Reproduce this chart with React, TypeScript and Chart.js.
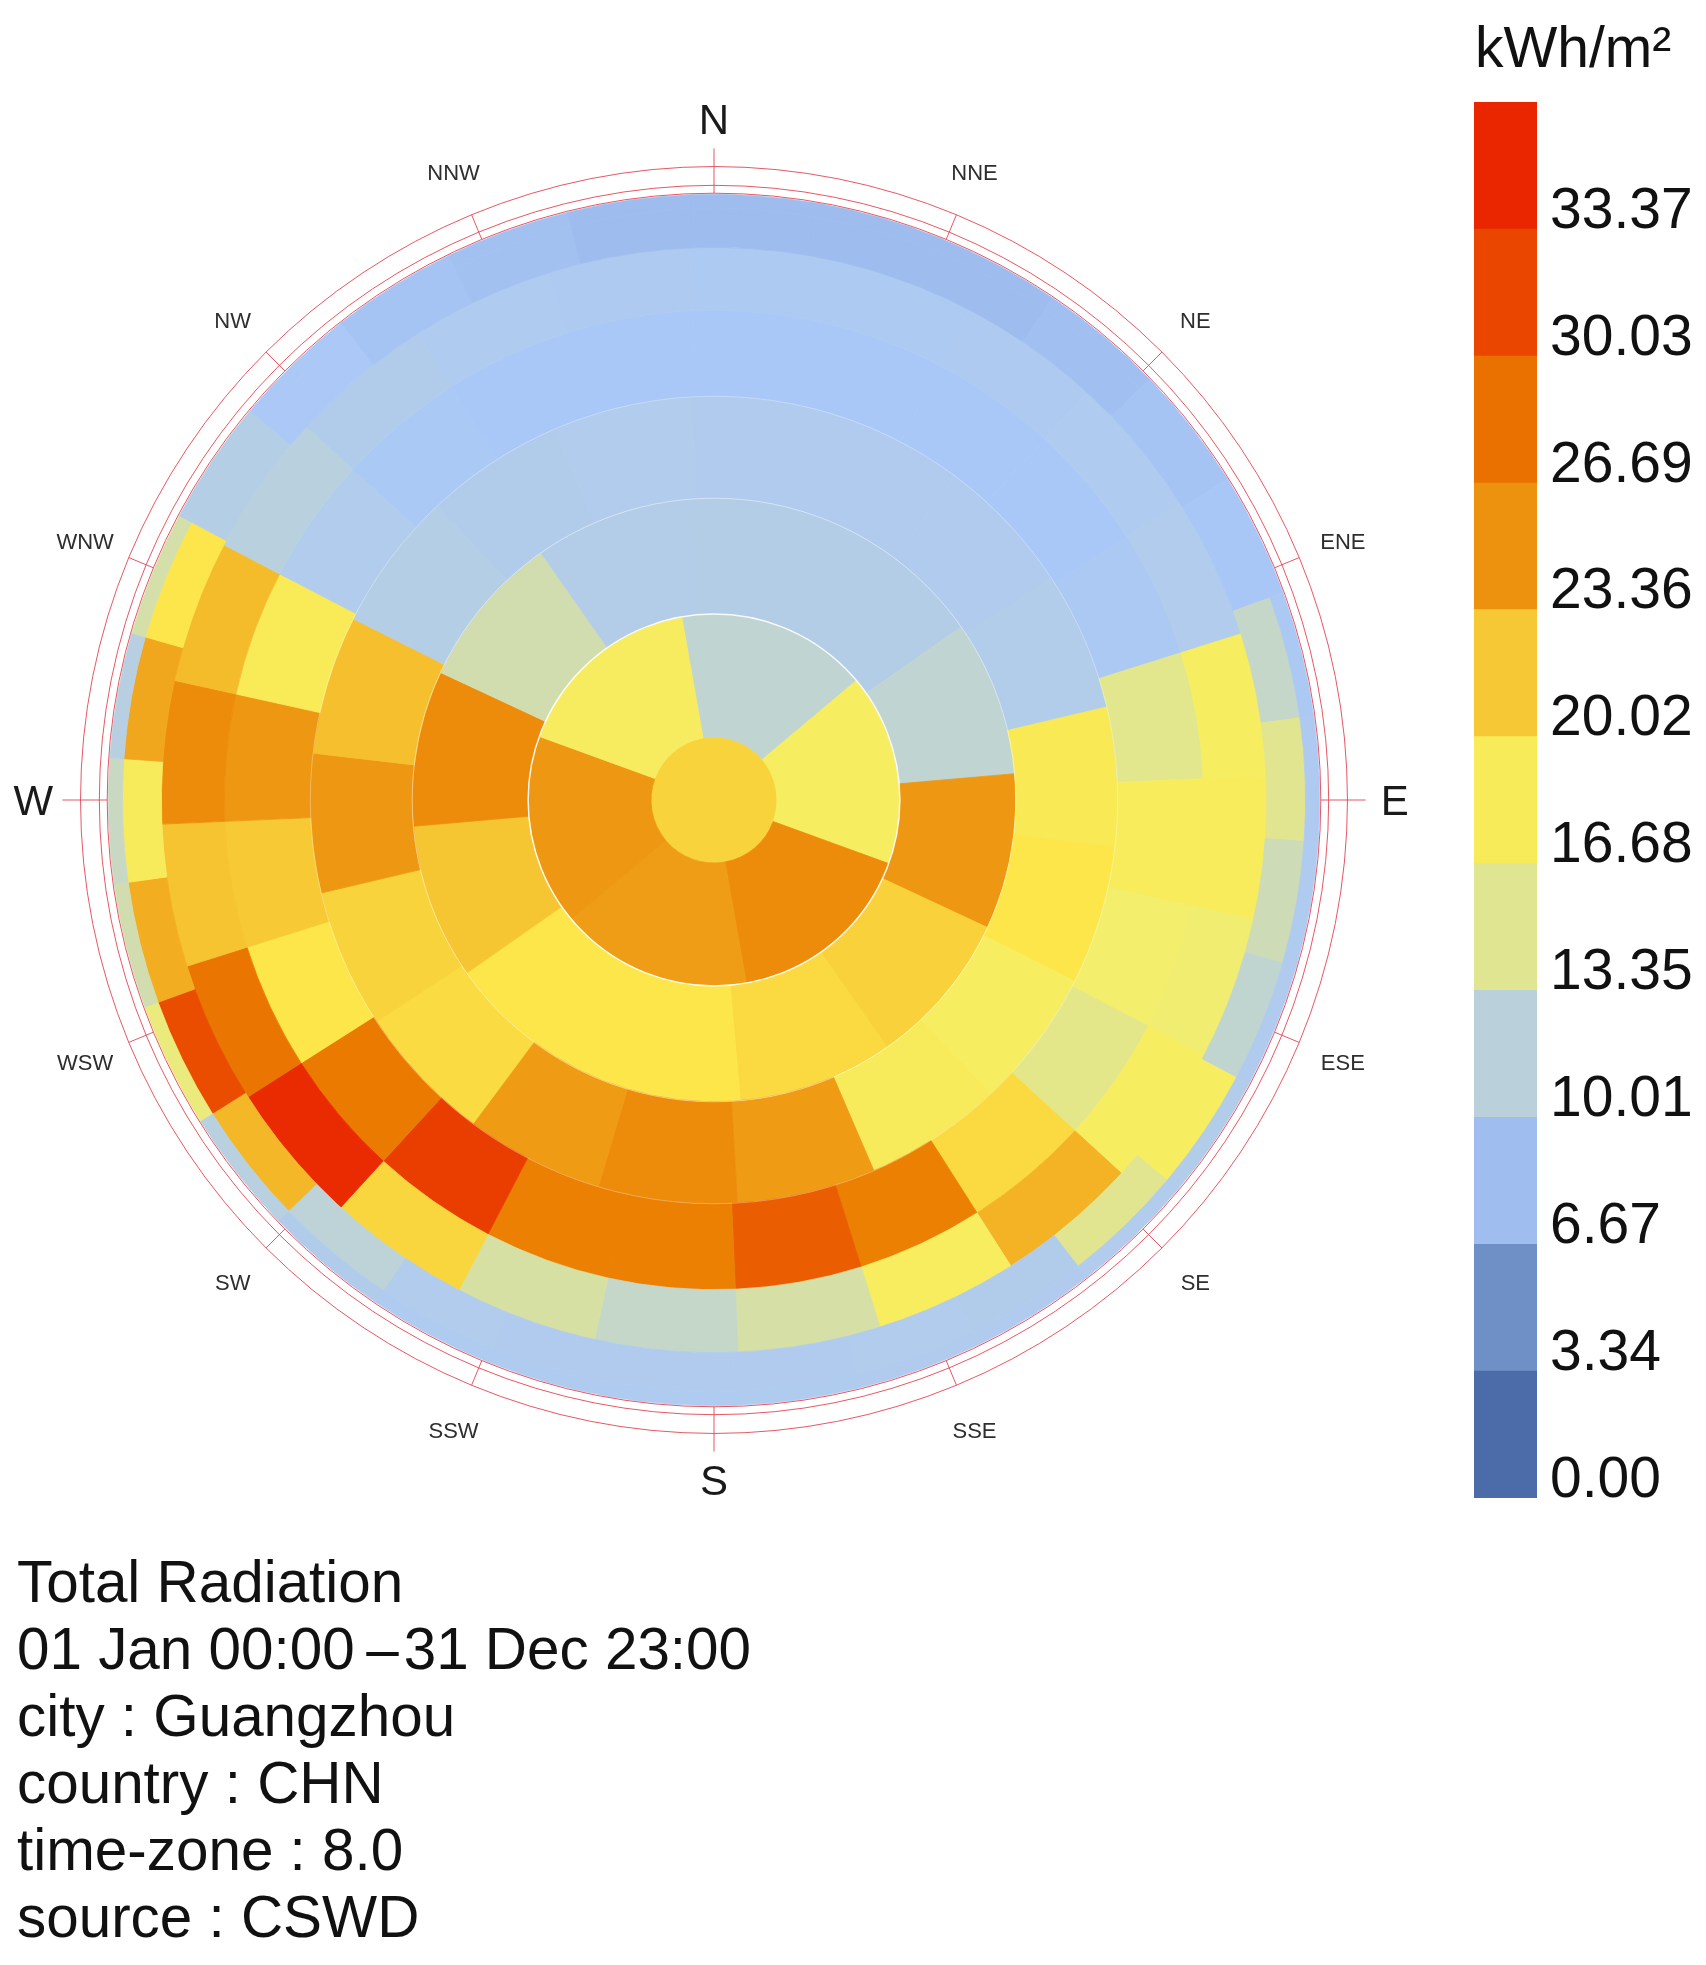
/**
 * Sky-dome radiation rose (Tregenza patches) with a stepped colour legend.
 * Each sky band is one doughnut dataset, outermost band first.
 */
import React, { useEffect, useRef } from 'react';
import { Chart, registerables } from 'chart.js';

Chart.register(...registerables);

const FONT = "'Liberation Sans', Arial, sans-serif";

// Radiation per patch in kWh/m2, clockwise, first patch starts just left of north
const band30Low = [6.6, 6.6, 6.6, 6.8, 7.1, 7.3, 7.8, 8, 8.2, 8.4, 8.7, 8.5, 8.4, 8.4, 8.3, 8.2, 8.2, 8.2, 8.6, 9.6, 14.1, 12.3, 11.6, 9.5, 12.5, 9.1, 7.5, 7.1, 6.9, 6.6];
const band30High = [6.6, 6.6, 6.6, 6.8, 7.1, 7.3, 11.4, 13.4, 12, 11.1, 15.6, 13.4, 8.6, 8.5, 8.4, 8.4, 8.4, 8.5, 10.5, 20.9, 29.5, 21.4, 16.4, 21.7, 18.4, 9.1, 7.5, 7.1, 6.9, 6.6];
const band24Low = [7.9, 7.9, 8, 8.2, 8.5, 15.6, 16.2, 14.5, 15.6, 21.1, 15.8, 12.6, 11.4, 12.7, 19.4, 33, 26.4, 20.3, 24, 20.7, 9.8, 8.6, 8.2, 8];
const band24High = [7.4, 7.4, 7.4, 7.4, 7.8, 13.5, 16.2, 14.7, 13.6, 19.2, 25.4, 28.2, 25.4, 25.4, 30.9, 26, 18.5, 20, 22.8, 16.7, 8.5, 7.6, 7.4, 7.4];
const band18 = [8.4, 8.4, 8.4, 8.7, 17.1, 18.5, 15.7, 16.4, 22.4, 24, 22.4, 19.1, 19.5, 22.8, 20.5, 9.1, 8.6, 8.5];
const band12 = [8.9, 8.9, 11, 22.8, 19.6, 19.2, 18.5, 18.5, 20.2, 24, 12.3, 8.8];
const band6 = [10.9, 15.6, 24, 22.2, 22.8, 15.9];
const bandCap = [19.5];

const skyBands = [band30Low, band30High, band24Low, band24High, band18, band12, band6, bandCap];
// ring thickness of each band, same order
const bandWeights = [14, 39, 63, 86, 102, 116, 123, 63];

const legendTicks = [0, 3.34, 6.67, 10.01, 13.35, 16.68, 20.02, 23.36, 26.69, 30.03, 33.37];
const legendMax = 36.71;

const gradientStops = [
  [75, 107, 169], [115, 147, 202], [170, 200, 247], [193, 213, 208], [245, 239, 103],
  [252, 230, 74], [239, 156, 21], [234, 123, 0], [234, 74, 0], [234, 38, 0],
];

const mainDirections = ['N', 'E', 'S', 'W'];
const minorDirections = ['NNE', 'NE', 'ENE', 'ESE', 'SE', 'SSE', 'SSW', 'SW', 'WSW', 'WNW', 'NW', 'NNW'];
const directionAngles: Record<string, number> = {
  N: 0, NNE: 22.5, NE: 45, ENE: 67.5, E: 90, ESE: 112.5, SE: 135, SSE: 157.5,
  S: 180, SSW: 202.5, SW: 225, WSW: 247.5, W: 270, WNW: 292.5, NW: 315, NNW: 337.5,
};

const infoLines = [
  'Total Radiation',
  '01 Jan 00:00\u2009\u2013\u200A31 Dec 23:00',
  'city : Guangzhou',
  'country : CHN',
  'time-zone : 8.0',
  'source : CSWD',
];

function radiationColor(value: number) {
  const pos = Math.min(Math.max(value / legendTicks[legendTicks.length - 1], 0), 1) * (gradientStops.length - 1);
  const low = Math.min(Math.floor(pos), gradientStops.length - 2);
  const t = pos - low;
  const [r, g, b] = gradientStops[low].map((c, i) => Math.round(c + (gradientStops[low + 1][i] - c) * t));
  return `rgb(${r},${g},${b})`;
}

// Compass rings, ticks and direction labels, plus the pale seams between bands
const compassPlugin = {
  id: 'compass',
  afterDatasetsDraw(chart: any) {
    const { ctx } = chart;
    const outer = chart.getDatasetMeta(0).data[0];
    const { x, y, outerRadius: R } = outer;
    const seamAlpha = [0, 0, 0, 0.3, 0.45, 0.9, 0];

    ctx.save();
    seamAlpha.forEach((alpha, i) => {
      if (!alpha) return;
      const arc = chart.getDatasetMeta(i).data[0];
      ctx.beginPath();
      ctx.arc(x, y, arc.innerRadius, 0, Math.PI * 2);
      ctx.strokeStyle = `rgba(255,255,255,${alpha})`;
      ctx.lineWidth = alpha > 0.5 ? 1.5 : 1;
      ctx.stroke();
    });

    ctx.strokeStyle = 'rgba(225,70,85,0.9)';
    ctx.lineWidth = 1;
    [1.002, 1.015, 1.046].forEach((f) => {
      ctx.beginPath();
      ctx.arc(x, y, R * f, 0, Math.PI * 2);
      ctx.stroke();
    });

    const spoke = (deg: number, r0: number, r1: number) => {
      const a = (deg * Math.PI) / 180;
      ctx.beginPath();
      ctx.moveTo(x + Math.sin(a) * r0, y - Math.cos(a) * r0);
      ctx.lineTo(x + Math.sin(a) * r1, y - Math.cos(a) * r1);
      ctx.stroke();
    };
    const label = (name: string) => {
      const a = (directionAngles[name] * Math.PI) / 180;
      ctx.fillText(name, x + Math.sin(a) * R * 1.124, y - Math.cos(a) * R * 1.124 + 3);
    };

    mainDirections.forEach((d) => spoke(directionAngles[d], R * 1.002, R * 1.076));
    minorDirections.forEach((d) => spoke(directionAngles[d], R * 1.002, R * 1.046));

    ctx.textAlign = 'center';
    ctx.textBaseline = 'middle';
    ctx.fillStyle = '#1a1a1a';
    ctx.font = `42px ${FONT}`;
    mainDirections.forEach(label);
    ctx.fillStyle = '#2e2e2e';
    ctx.font = `22px ${FONT}`;
    minorDirections.forEach(label);
    ctx.restore();
  },
};

const SkyDome: React.FC = () => {
  const canvasRef = useRef<HTMLCanvasElement>(null);

  useEffect(() => {
    if (!canvasRef.current) return;
    const chart = new Chart(canvasRef.current, {
      type: 'doughnut',
      data: {
        datasets: skyBands.map((band, i) => {
          const colors = band.map(radiationColor);
          return {
            data: band.map(() => 1),
            backgroundColor: colors,
            borderColor: colors,
            borderWidth: 0.8,
            weight: bandWeights[i],
            // patches sit a sixth of their width anticlockwise of north
            rotation: -(360 / band.length) / 6,
          };
        }),
      },
      options: {
        responsive: false,
        animation: false,
        cutout: 0,
        layout: { padding: { left: 108, right: 108, top: 194, bottom: 194 } },
        plugins: { legend: { display: false }, tooltip: { enabled: false } },
      },
      plugins: [compassPlugin],
    } as any);
    return () => chart.destroy();
  }, []);

  return (
    <canvas
      ref={canvasRef}
      width={1428}
      height={1600}
      style={{ position: 'absolute', left: 0, top: 0 }}
    />
  );
};

const ColorLegend: React.FC = () => {
  const canvasRef = useRef<HTMLCanvasElement>(null);

  useEffect(() => {
    if (!canvasRef.current) return;
    const chart = new Chart(canvasRef.current, {
      type: 'bar',
      data: {
        labels: [''],
        datasets: legendTicks.map((tick, i) => ({
          data: [(legendTicks[i + 1] ?? legendMax) - tick],
          backgroundColor: radiationColor(tick),
          borderWidth: 0,
          barPercentage: 1,
          categoryPercentage: 1,
        })),
      },
      options: {
        responsive: false,
        animation: false,
        // room under the bar so the 0.00 label is not cut off
        layout: { padding: { bottom: 30 } },
        plugins: { legend: { display: false }, tooltip: { enabled: false } },
        scales: {
          x: { display: false, stacked: true },
          y: {
            position: 'right',
            stacked: true,
            min: 0,
            max: legendMax,
            grid: { display: false, drawTicks: false },
            border: { display: false },
            afterBuildTicks: (scale: any) => {
              scale.ticks = legendTicks.map((value) => ({ value }));
            },
            afterFit: (scale: any) => {
              // keep the bar running the full canvas height
              scale.width = 169;
              scale.paddingTop = 0;
              scale.paddingBottom = 0;
            },
            ticks: {
              autoSkip: false,
              padding: 13,
              labelOffset: -17,
              color: '#111',
              font: { family: FONT, size: 57 },
              callback: (value: any) => Number(value).toFixed(2),
            },
          },
        },
      },
    } as any);
    return () => chart.destroy();
  }, []);

  return (
    <canvas
      ref={canvasRef}
      width={232}
      height={1426}
      style={{ position: 'absolute', left: 1474, top: 102 }}
    />
  );
};

export default function App() {
  return (
    <div style={{ position: 'absolute', left: 0, top: 0, width: 1706, height: 1965, background: '#fff', overflow: 'hidden', fontFamily: FONT, color: '#111' }}>
      <SkyDome />
      <ColorLegend />
      <div style={{ position: 'absolute', left: 1475, top: 12, fontSize: 57, lineHeight: '70px', whiteSpace: 'nowrap' }}>kWh/m²</div>
      <div style={{ position: 'absolute', left: 17, top: 1548, fontSize: 58.4, lineHeight: '67px', whiteSpace: 'nowrap' }}>
        {infoLines.map((line) => (
          <div key={line}>{line}</div>
        ))}
      </div>
    </div>
  );
}
